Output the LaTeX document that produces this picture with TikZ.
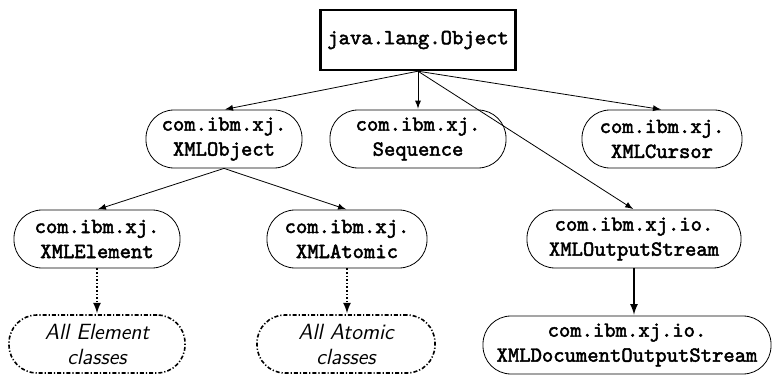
\documentclass[tikz,border=0pt]{standalone}
\usepackage{fontspec}
\usepackage{tikz}
\usetikzlibrary{arrows}
\newfontfamily\ttbold{lmmono10-regular.otf}[FakeBold=2.2]

\begin{document}
\begin{tikzpicture}[x=0.5pt,y=-0.5pt,>=latex,
    cls/.style={draw,rounded corners=14pt,align=center,minimum height=29pt,inner xsep=4pt,
      font=\fontsize{10.8}{12.5}\selectfont\ttbold},
    grp/.style={cls,dash pattern=on 2pt off 1pt on 0.6pt off 1pt,thick,
      font=\fontsize{11}{12.5}\selectfont\sffamily\itshape},
    inh/.style={->,shorten >=0.5pt}]
    \useasboundingbox (0,0) rectangle (773,375);

    \node [draw,line width=1.2pt,minimum width=97pt,minimum height=30pt,
      font=\fontsize{10.8}{12.5}\selectfont\ttbold] (obj) at (418,40) {java.lang.Object};

    \node [cls,minimum width=78pt] (xmlobj) at (224,139) {com.ibm.xj.\\XMLObject};
    \node [cls,minimum width=88pt] (seq) at (418,139) {com.ibm.xj.\\Sequence};
    \node [cls,minimum width=80pt] (cursor) at (662,139) {com.ibm.xj.\\XMLCursor};

    \node [cls,minimum width=83pt] (elem) at (97,239) {com.ibm.xj.\\XMLElement};
    \node [cls,minimum width=80pt] (atomic) at (347,239) {com.ibm.xj.\\XMLAtomic};
    \node [cls,minimum width=107pt] (ostream) at (634,239) {com.ibm.xj.io.\\XMLOutputStream};

    \node [grp,minimum width=88pt] (allelem) at (97,344) {All Element\\classes};
    \node [grp,minimum width=89pt] (allatom) at (346,344) {All Atomic\\classes};
    \node [cls,minimum width=144pt] (docstream) at (627,345) {com.ibm.xj.io.\\XMLDocumentOutputStream};

    \foreach \c in {xmlobj,seq,cursor,ostream}
    \draw [inh] (obj.south) -- (\c.north);
    \foreach \c in {elem,atomic}
    \draw [inh] (xmlobj.south) -- (\c.north);

    \draw [inh,thick,densely dotted] (elem.south) -- (elem.south |- allelem.north);
    \draw [inh,thick,densely dotted] (atomic.south) -- (atomic.south |- allatom.north);
    \draw [inh,thick] (ostream.south) -- (ostream.south |- docstream.north);
\end{tikzpicture}
\end{document}
